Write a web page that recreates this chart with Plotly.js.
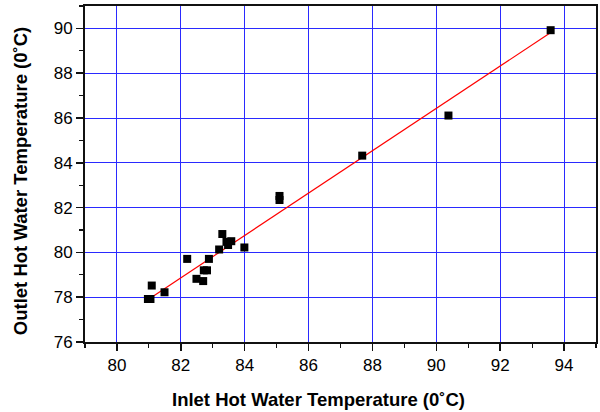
<!DOCTYPE html>
<html>
<head>
<meta charset="utf-8">
<script src="https://cdn.plot.ly/plotly-3.0.1.min.js"></script>
<style>html,body{margin:0;padding:0;background:#fff;}#chart{width:600px;height:412px;}</style>
</head>
<body>
<div id="chart"></div>
<script>
// Measured data points
const inletTemp  = [93.58, 90.38, 87.68, 85.09, 85.09, 83.99, 83.30, 83.43, 83.58, 83.48, 83.20, 82.20, 82.88, 82.72, 82.82, 82.49, 82.70, 81.09, 81.49, 80.97, 81.05];
const outletTemp = [89.92, 86.11, 84.32, 82.52, 82.34, 80.22, 80.82, 80.47, 80.50, 80.33, 80.13, 79.71, 79.71, 79.20, 79.20, 78.82, 78.72, 78.52, 78.22, 77.92, 77.92];
// Linear fit line endpoints
const fitX = [80.98, 93.62];
const fitY = [77.90, 89.85];
const xTicks = [80, 82, 84, 86, 88, 90, 92, 94];
const yTicks = [76, 78, 80, 82, 84, 86, 88, 90];
const xTitle = 'Inlet Hot Water Temperature (0˚C)';
const yTitle = 'Outlet Hot Water Temperature (0˚C)';

const font = 'Liberation Sans, Arial, sans-serif';
const axisCommon = {
  showgrid: true, gridcolor: '#2a2aff', gridwidth: 1,
  zeroline: false, showline: true, linecolor: '#111', linewidth: 2, mirror: true,
  ticks: 'outside', ticklen: 7, tickwidth: 1.5, tickcolor: '#111',
  tickfont: {family: font, size: 17, color: '#000'},
  minor: {dtick: 1, ticks: 'outside', ticklen: 4, tickwidth: 1.2, tickcolor: '#111', showgrid: false}
};

const traces = [
  {x: fitX, y: fitY, mode: 'lines', type: 'scatter', line: {color: '#ff0000', width: 1.2}, hoverinfo: 'skip'},
  {x: inletTemp, y: outletTemp, mode: 'markers', type: 'scatter', marker: {symbol: 'square', size: 8, color: '#000'}}
];

const titleFont = {family: font, size: 18.5, color: '#000', weight: 'bold'};
const layout = {
  width: 600, height: 412,
  margin: {l: 85, r: 4, t: 6, b: 70},
  paper_bgcolor: '#fff', plot_bgcolor: '#fff',
  showlegend: false,
  xaxis: Object.assign({}, axisCommon, {range: [79, 95], tickvals: xTicks, ticktext: xTicks.map(String)}),
  yaxis: Object.assign({}, axisCommon, {range: [76, 91], tickvals: yTicks, ticktext: yTicks.map(String)}),
  annotations: [
    {text: xTitle, xref: 'paper', yref: 'paper', x: 0.456, y: -0.1726, xanchor: 'center', yanchor: 'middle', showarrow: false, font: titleFont},
    {text: yTitle, xref: 'paper', yref: 'paper', x: -0.127, y: 0.479, xanchor: 'center', yanchor: 'middle', textangle: -90, showarrow: false, font: titleFont}
  ]
};

Plotly.newPlot('chart', traces, layout, {staticPlot: true, displayModeBar: false});
</script>
</body>
</html>
